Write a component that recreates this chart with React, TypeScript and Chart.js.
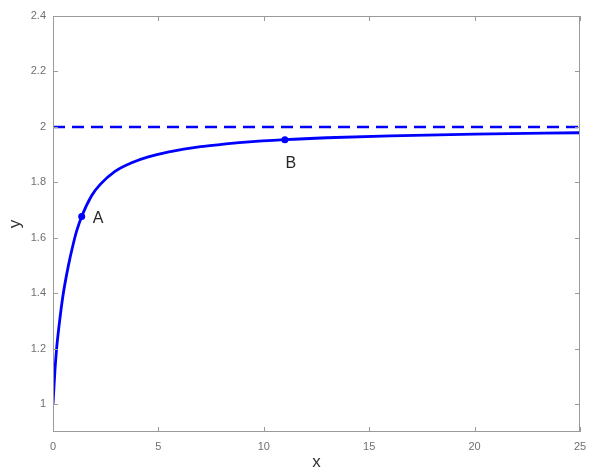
import React, { useEffect, useRef } from "react";
import { Chart, registerables } from "chart.js";

Chart.register(...registerables);

const curveX = [0, 0.09, 0.17, 0.33, 0.49, 0.73, 0.96, 1.12, 1.36, 1.83, 2.23, 2.94, 3.73, 4.52, 5.5, 6.2, 7, 8, 9, 11, 13, 16, 20, 25];
const curveY = [1.0, 1.12, 1.2, 1.31, 1.4, 1.5, 1.578, 1.624, 1.677, 1.752, 1.792, 1.84, 1.871, 1.892, 1.91, 1.92, 1.929, 1.937, 1.944, 1.954, 1.961, 1.968, 1.974, 1.979];
const asymptoteX = [0, 25];
const asymptoteY = [2, 2];
const pointLabels = ["A", "B"];
const pointX = [1.36, 11];
const pointY = [1.677, 1.954];
const xTicks = [0, 5, 10, 15, 20, 25];
const yTicks = [1, 1.2, 1.4, 1.6, 1.8, 2, 2.2, 2.4];
const xRange = [0, 25];
const yRange = [0.9, 2.4];

const fmt = (v: number) => String(Math.round(v * 10) / 10);

const boxPlugin = {
  id: "boxPlugin",
  afterDatasetsDraw(chart: any) {
    const { ctx, chartArea, scales } = chart;
    const { left, right, top, bottom } = chartArea;
    ctx.save();
    ctx.strokeStyle = "#9a9a9a";
    ctx.lineWidth = 1;
    ctx.strokeRect(left + 0.5, top + 0.5, right - left - 1, bottom - top - 1);
    const tl = 5;
    ctx.beginPath();
    for (const v of xTicks) {
      const px = Math.round(scales.x.getPixelForValue(v)) + 0.5;
      ctx.moveTo(px, bottom);
      ctx.lineTo(px, bottom - tl);
      ctx.moveTo(px, top);
      ctx.lineTo(px, top + tl);
    }
    for (const v of yTicks) {
      const py = Math.round(scales.y.getPixelForValue(v)) + 0.5;
      ctx.moveTo(left, py);
      ctx.lineTo(left + tl, py);
      ctx.moveTo(right, py);
      ctx.lineTo(right - tl, py);
    }
    ctx.stroke();
    ctx.fillStyle = "#262626";
    ctx.font = "16px 'Liberation Sans', Arial, sans-serif";
    ctx.textBaseline = "middle";
    pointLabels.forEach((t, i) => {
      const px = scales.x.getPixelForValue(pointX[i]);
      const py = scales.y.getPixelForValue(pointY[i]);
      if (i === 0) {
        ctx.textAlign = "left";
        ctx.fillText(t, px + 11, py + 2);
      } else {
        ctx.textAlign = "center";
        ctx.fillText(t, px + 6, py + 24);
      }
    });
    ctx.restore();
  },
};

export default function App() {
  const ref = useRef<HTMLCanvasElement | null>(null);
  useEffect(() => {
    if (!ref.current) return;
    const chart = new Chart(ref.current, {
      type: "line",
      data: {
        datasets: [
          {
            label: "asymptote",
            data: asymptoteX.map((x, i) => ({ x, y: asymptoteY[i] })),
            borderColor: "#0000ff",
            borderWidth: 2.6,
            borderDash: [12, 7],
            pointRadius: 0,
            fill: false,
          },
          {
            label: "curve",
            data: curveX.map((x, i) => ({ x, y: curveY[i] })),
            borderColor: "#0000ff",
            borderWidth: 2.8,
            pointRadius: 0,
            cubicInterpolationMode: "monotone",
            fill: false,
          },
          {
            label: "points",
            data: pointX.map((x, i) => ({ x, y: pointY[i] })),
            showLine: false,
            pointRadius: 3.5,
            pointBackgroundColor: "#0000ff",
            pointBorderColor: "#0000ff",
            pointBorderWidth: 0,
          },
        ],
      },
      options: {
        animation: false,
        responsive: false,
        maintainAspectRatio: false,
        layout: { padding: { top: 16, right: 34, left: 0, bottom: 0 } },
        plugins: { legend: { display: false }, tooltip: { enabled: false } },
        scales: {
          x: {
            type: "linear",
            min: xRange[0],
            max: xRange[1],
            afterBuildTicks: (s: any) => {
              s.ticks = xTicks.map((v) => ({ value: v }));
            },
            afterFit: (s: any) => {
              s.height = 41;
            },
            grid: { display: false, drawTicks: false },
            border: { display: false },
            ticks: {
              color: "#707070",
              padding: 8,
              maxRotation: 0,
              callback: (v: any) => fmt(Number(v)),
              font: { family: "'Liberation Sans', Arial, sans-serif", size: 11 },
            },
            title: {
              display: true,
              text: "x",
              color: "#333333",
              padding: { top: 0, bottom: 0 },
              font: { family: "'Liberation Sans', Arial, sans-serif", size: 17 },
            },
          },
          y: {
            type: "linear",
            min: yRange[0],
            max: yRange[1],
            afterBuildTicks: (s: any) => {
              s.ticks = yTicks.map((v) => ({ value: v }));
            },
            afterFit: (s: any) => {
              s.width = 53;
            },
            grid: { display: false, drawTicks: false },
            border: { display: false },
            ticks: {
              color: "#707070",
              padding: 7,
              callback: (v: any) => fmt(Number(v)),
              font: { family: "'Liberation Sans', Arial, sans-serif", size: 11 },
            },
            title: {
              display: true,
              text: "y",
              color: "#333333",
              padding: { top: 5, bottom: 0 },
              font: { family: "'Liberation Sans', Arial, sans-serif", size: 17 },
            },
          },
        },
      },
      plugins: [boxPlugin],
    } as any);
    return () => chart.destroy();
  }, []);
  return (
    <div style={{ position: "fixed", left: 0, top: 0, width: 614, height: 473, background: "#fff" }}>
      <canvas ref={ref} width={614} height={473} style={{ display: "block" }} />
    </div>
  );
}
